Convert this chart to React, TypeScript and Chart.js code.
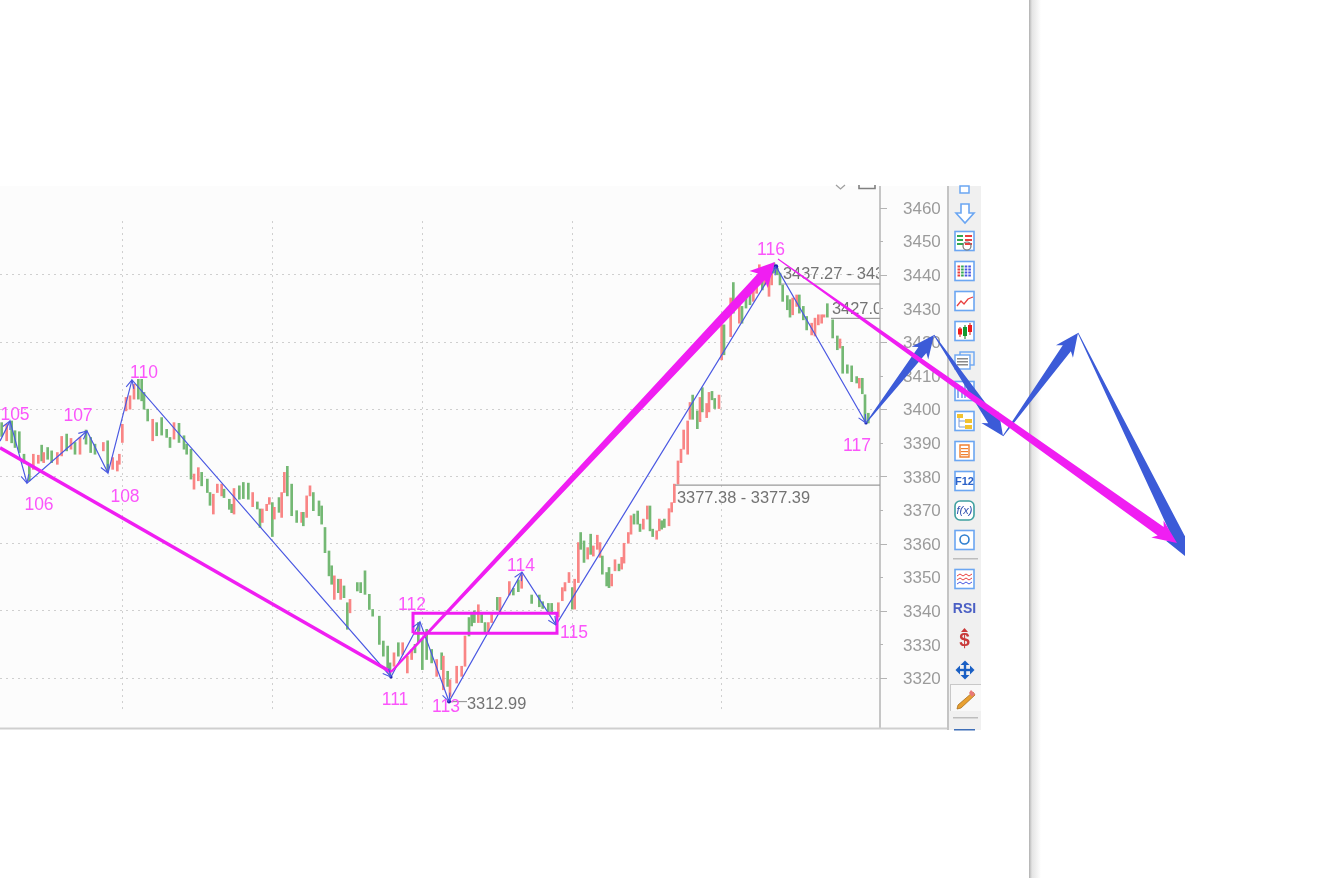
import React, { useEffect, useRef } from "react";
import { Chart, registerables } from "chart.js";

Chart.register(...registerables);

// Time axis position of each bar
const barTime = [
  5,20,35,45,58,72,88,100,115,125,131,143,155,172,185,200,213,225,240,258,
  272,285,310,323,338,352,358,367,378,390,402,415,425,432,443,458,470,485,500,510,
  522,537,552,560,573,582,595,605,622,630,640,652,665,672,688,695,702,718,730,745,
  758,772,780,787,800,808,817,823,837,845,853,862,875,890,905,910,920,930,940,957,
  965,975,987,995,1003,1015,1022,1032,1042,1050,1072,1082,1095,1108,1118,1138,1150,1163,1170,1182,
  1195,1208,1222,1235,1245,1255,1267,1280,1295,1310,1325,1330,1343,1350,1370,1385,1395,1407,1415,1423,
  1435,1445,1455,1465,1475,1492,1500,1528,1540,1555,1565,1595,1618,1628,1645,1655,1675,1687,1695,1707,
  1717,1724,1735,1742,1752,1763,1772,1780,1792,1800,1807,1820,1827,1835,1845,1857,1865,1872,1885,1893,
  1902,1913,1920,1930,1942,1950,1958,1970,1978,1985,1993,2007,2015,2023,2034,2043,2051,2063,2070,2078,
  2092,2100,2107,2120,2127,2136,2144,2157,2165,2172,2192,2200,2218,2226,2238,2250,2260,2270,2278,2287,
  2295,2307,2315,2322,2332,2340,2348,2362,2370,2378,2390,2398,2410,2420,2435,2445,2455,2465,2472,2482,
  2498,2512,2520,2528,2542,2555,2570,2578,2587,2595,2605,
];
const barHigh = [
  3396,3395.5,3396.5,3393.6,3393.3,3386.6,3383.6,3386.6,3386.3,3389.3,3387.1,3388.6,3387.6,3387.1,3391.9,3392.6,3391.3,3390.1,3391.6,3393.8,
  3391.6,3389.6,3390.1,3390.6,3385.6,3384.6,3386.6,3395.5,3403.5,3404,3407.4,3408.9,3408.9,3405,3400,3397,3396,3397.5,3394,3391.6,
  3396,3395.8,3392.1,3389.6,3388.1,3380.7,3382.6,3381.2,3379.2,3375.2,3374.7,3377.7,3377.7,3376.2,3373.2,3371.7,3376.4,3377.2,3378.2,3378,
  3375.2,3372.4,3370.3,3370.3,3371.7,3373.7,3372.2,3370.8,3373.7,3375.2,3381.2,3383,3377.7,3369.8,3369.3,3369.3,3374.2,3377.2,3375.2,3372.7,
  3371.2,3364.8,3357.8,3353.4,3350.4,3349.4,3349.4,3347.4,3342.4,3343.4,3348.4,3348.4,3351.9,3344.9,3340.4,3338.4,3331,3329.5,3324.5,3327.5,
  3330.5,3330.5,3326.5,3328.5,3330,3336.5,3331.5,3334.5,3328.5,3325.5,3327.5,3326.5,3322,3319.5,3323.5,3323.5,3332.5,3338,3339.5,3340,
  3341.8,3339,3336.5,3336.5,3339,3344,3344,3348.7,3346.7,3349.2,3350.7,3344.7,3344.7,3342.7,3342.2,3342.2,3342.4,3346.9,3348.4,3351.4,
  3346.9,3349.4,3360.3,3363.3,3360.8,3358.8,3362.8,3359.3,3362.5,3360.3,3356.3,3351.4,3352.9,3350.9,3355.2,3353.9,3355.9,3360.1,3363.3,3368.3,
  3368.8,3369.7,3365.8,3367.3,3371.2,3371.2,3364.3,3363.8,3367.3,3366.8,3367.3,3370.4,3372.2,3377.7,3384.6,3388.1,3393.8,3396.5,3402,3404.2,
  3399.5,3403.5,3406.4,3401.7,3405,3405.3,3403.2,3404.2,3425.1,3425.1,3433.1,3437.7,3432.1,3430.6,3434,3435,3437,3437.5,3443,3438.5,
  3440.5,3438.5,3442,3443.5,3442,3440.5,3437,3433.8,3432.6,3433.1,3434,3434,3430.6,3427.6,3425.6,3427.1,3428.1,3428.1,3428.1,3431.4,
  3426.6,3421.8,3420.9,3418.7,3413.2,3412.9,3409.7,3409.2,3409.2,3404.3,3398.8,
];
const barLow = [
  3391.9,3390.6,3390,3388.6,3387.1,3383.9,3378.7,3382.1,3383.9,3384.6,3384.1,3385.1,3384.1,3383.6,3386.1,3387.6,3388.1,3386.6,3386.6,3389.6,
  3387.1,3386.6,3387.6,3381.6,3382.1,3381.6,3383.6,3390.1,3399.5,3400,3403,3403,3402.5,3400,3396.5,3390.6,3392.1,3392.3,3391.6,3388.6,
  3391.1,3390.1,3388.1,3386.6,3379.2,3376.2,3378.7,3377.2,3375.2,3371.4,3368.8,3375.2,3374.2,3373.7,3370.2,3369.2,3368.8,3373.2,3373.4,3373.2,
  3371,3370.3,3364.8,3366.3,3369.8,3371.7,3362.1,3367.3,3369.3,3367.8,3375.2,3374.2,3368.3,3366.3,3366.3,3365.3,3367.8,3374.2,3369.8,3368.3,
  3365.8,3357.3,3350.4,3347.9,3343.4,3345.4,3343.4,3343.9,3334.5,3339.4,3345.9,3345.4,3344.9,3340.4,3338.4,3330,3326.5,3323,3320.5,3323.5,
  3326.5,3327,3321.5,3325.5,3327.5,3330.5,3322.5,3325.5,3324.5,3320.5,3322.5,3316.5,3317.5,3314.5,3318.5,3320.5,3323.5,3332.5,3335.5,3336.5,
  3336.5,3336.5,3333.5,3333.5,3336.5,3340.2,3339.7,3344.7,3344.7,3345.7,3346.7,3342.2,3341.2,3340.7,3339.2,3339.2,3338.2,3343,3345.9,3348.4,
  3340.5,3340.5,3348.4,3358.3,3354.4,3355.4,3356.8,3356.3,3358.3,3355.9,3350.9,3347.4,3346.9,3347.4,3351.9,3351.9,3352.4,3354.2,3360.1,3362.8,
  3365.8,3365.8,3363.6,3364.3,3367.3,3363.8,3362.1,3361.3,3363.8,3364.3,3364.8,3365.3,3369.4,3372.2,3377.7,3384.1,3388.1,3386.6,3397,3397,
  3394.2,3396.3,3399.2,3397.5,3399.2,3402.8,3400.2,3400.2,3414.7,3416.2,3421.6,3428.6,3425.6,3425.6,3430.1,3431.1,3432.1,3434.5,3437,3435.5,
  3437,3433.6,3437,3440.5,3440,3437,3432.1,3429.6,3427.4,3428.1,3430.6,3428.6,3426.6,3423.6,3422.1,3421.8,3425.1,3425.6,3427.4,3427.4,
  3421.2,3417.7,3418.2,3410.7,3410.7,3408.2,3407.8,3406.3,3404.6,3396.3,3395.9,
];
// "R" red bar, "G" green bar
const barColorCode = (
  "GRGGGGGRRGRGGRRGRGRG" +
  "GGRGRRRRRRRGGGGRGGGG" +
  "RGGGGRRGGGRRRGGGRGGG" +
  "RGGRRRGRGRRGGGRGRRGG" +
  "GGGGRGRGGRGGGGGGGGGR" +
  "GRRRGGGGGRGRGRRRRGG" + "G" +
  "RGGRRGRRGGRGGGGGRRRR" +
  "GRRGGRGRRRGGGRRGRRRR" +
  "GGGRRGGRRGGRRRRRRRRG" +
  "GRGRRGGRRGRGRGGGRRRG" +
  "RRRGGGGGGRRGGGRRRRRG" +
  "GGRGGGGRGGG"
).split("");

// Blue zigzag, waves 105 to 117
const waveTime = [0, 30, 81, 261, 324, 396, 1173, 1260, 1347, 1566, 1668, 2328, 2598];
const wavePrice = [3390.5, 3396.5, 3378, 3393.5, 3381, 3408.7, 3320.3, 3336.7, 3312.99, 3351.5, 3335.8, 3442.5, 3395.9];
const waveDotRadius = [0, 0, 0, 0, 0, 0, 1.6, 0, 2, 0, 0, 2.2, 1.6];
// Magenta trend line
const trendTime = [0, 1173];
const trendPrice = [3388.5, 3321.8];
// Hand-drawn arrows
const blueArrowTime = [2598, 2802, 3009, 3234, 3570];
const blueArrowPrice = [3395.9, 3422.1, 3392, 3422.7, 3355.1];
const magentaArrowTime = [1173, 2325, 2334, 3531];
const magentaArrowPrice = [3321.8, 3443.8, 3444.7, 3360.2];
// Magenta box
const boxTime = [1239, 1671];
const boxPrice = [3333.3, 3339.3];
// Price levels
const levelStart = [2340, 2493, 2025, 1347];
const levelEnd = [2640, 2640, 2640, 1401];
const levelPrice = [3437.27, 3427.06, 3377.38, 3312.99];

const waveLabels = ["105", "106", "107", "108", "110", "111", "112", "113", "114", "115", "116", "117"];
const waveLabelTime = [45, 117, 234, 375, 432, 1185, 1236, 1338, 1563, 1722, 2313, 2571];
const waveLabelPrice = [3398.1, 3371.3, 3397.8, 3373.7, 3410.6, 3313.3, 3341.8, 3311.2, 3353.4, 3333.2, 3447.2, 3389.1];
const levelLabels = ["3312.99", "3377.38 - 3377.39", "3437.27 - 3437.28", "3427.06 - 3427.07"];
const levelLabelTime = [1401, 2031, 2349, 2496];
const levelLabelPrice = [3312, 3373.3, 3440.2, 3429.8];
const gridTimes = [366, 816, 1266, 1716, 2163];

const RED = "#f98585";
const GREEN = "#74b874";
const BLUE = "#4a58e2";
const ARROW_BLUE = "#3c5bd8";
const MAGENTA = "#f01ef2";
const ICON_BLUE = "#6ba6f2";
const FONT = '"Liberation Sans", Arial, sans-serif';

function taperArrow(ctx: any, x0: number, y0: number, x1: number, y1: number, w0: number, w1: number, hl: number, hw: number, color: string) {
  const len = Math.hypot(x1 - x0, y1 - y0);
  const ux = (x1 - x0) / len, uy = (y1 - y0) / len;
  const nx = -uy, ny = ux;
  const bx = x1 - ux * hl, by = y1 - uy * hl;
  const sx = bx - ux * 4, sy = by - uy * 4;
  ctx.fillStyle = color;
  ctx.beginPath();
  ctx.moveTo(x0 + nx * w0 / 2, y0 + ny * w0 / 2);
  ctx.lineTo(bx + nx * w1 / 2, by + ny * w1 / 2);
  ctx.lineTo(sx + nx * hw / 2, sy + ny * hw / 2);
  ctx.lineTo(x1, y1);
  ctx.lineTo(sx - nx * hw / 2, sy - ny * hw / 2);
  ctx.lineTo(bx - nx * w1 / 2, by - ny * w1 / 2);
  ctx.lineTo(x0 - nx * w0 / 2, y0 - ny * w0 / 2);
  ctx.closePath();
  ctx.fill();
}

function openHead(ctx: any, x0: number, y0: number, x1: number, y1: number) {
  const a = Math.atan2(y1 - y0, x1 - x0);
  ctx.beginPath();
  for (const d of [-0.45, 0.45]) {
    ctx.moveTo(x1, y1);
    ctx.lineTo(x1 - 9 * Math.cos(a + d), y1 - 9 * Math.sin(a + d));
  }
  ctx.stroke();
}

function frame(ctx: any, cy: number, color = ICON_BLUE, fill = "#ffffff") {
  ctx.fillStyle = fill;
  ctx.fillRect(955, cy - 9.5, 19, 19);
  ctx.strokeStyle = color;
  ctx.lineWidth = 1.6;
  ctx.strokeRect(955, cy - 9.5, 19, 19);
}

function rect(ctx: any, x: number, y: number, w: number, h: number, c: string) {
  ctx.fillStyle = c;
  ctx.fillRect(x, y, w, h);
}

function poly(ctx: any, pts: number[][], fill?: string, stroke?: string, lw = 1) {
  ctx.beginPath();
  pts.forEach((p, i) => (i ? ctx.lineTo(p[0], p[1]) : ctx.moveTo(p[0], p[1])));
  if (fill) { ctx.closePath(); ctx.fillStyle = fill; ctx.fill(); }
  if (stroke) { ctx.strokeStyle = stroke; ctx.lineWidth = lw; ctx.stroke(); }
}

function drawToolbar(ctx: any) {
  rect(ctx, 948, 186, 33, 544, "#f0f0f0");
  rect(ctx, 947, 186, 2, 544, "#c4c4c4");
  // clipped button at the top
  poly(ctx, [[960, 186], [960, 193], [969, 193], [969, 186]], "#ffffff", ICON_BLUE, 1.5);
  // down arrow
  poly(ctx, [[961, 204], [969, 204], [969, 213], [974, 213], [965, 223], [956, 213], [961, 213]], "#ffffff", ICON_BLUE, 1.6);
  // list with check
  frame(ctx, 241);
  for (let i = 0; i < 3; i++) {
    rect(ctx, 957, 235 + i * 4, 6, 2, "#32a852");
    rect(ctx, 965, 235 + i * 4, 7, 2, "#e84040");
  }
  ctx.strokeStyle = "#777"; ctx.lineWidth = 1.2;
  ctx.beginPath(); ctx.arc(967, 246, 4, 0, Math.PI * 2); ctx.stroke();
  // colored table
  frame(ctx, 271);
  ["#e84040", "#32a852", "#4a58e2", "#4a58e2"].forEach((c, col) => {
    for (let r = 0; r < 4; r++) rect(ctx, 957.5 + col * 3.6, 265.5 + r * 3, 2.6, 2, c);
  });
  // line icon
  frame(ctx, 301);
  poly(ctx, [[957, 306], [961, 301], [964, 304], [968, 299], [973, 297]], undefined, "#e84040", 1.3);
  // candlesticks
  frame(ctx, 331);
  rect(ctx, 959.5, 327, 1, 10, "#d01818"); rect(ctx, 958, 328.5, 4, 6, "#ee1c1c");
  rect(ctx, 964.5, 325, 1, 14, "#0a7a20"); rect(ctx, 963, 327, 4, 9, "#129a30");
  rect(ctx, 969.5, 323, 1, 12, "#d01818"); rect(ctx, 968, 325, 4, 7, "#ee1c1c");
  // windows
  ctx.strokeStyle = ICON_BLUE; ctx.lineWidth = 1.4;
  ctx.strokeRect(960, 352, 14, 13);
  rect(ctx, 955, 355, 15, 14, "#ffffff");
  ctx.strokeRect(955, 355, 15, 14);
  for (let i = 0; i < 3; i++) rect(ctx, 957, 358 + i * 3, 11, 1.5, "#8a8a8a");
  // bars
  frame(ctx, 391);
  poly(ctx, [[958, 398], [958, 387], [962, 387], [962, 398]], undefined, "#4a7ae0", 1.2);
  poly(ctx, [[965, 398], [965, 384], [970, 384], [970, 398]], undefined, "#4a7ae0", 1.2);
  // tree
  frame(ctx, 421);
  rect(ctx, 957, 414, 6, 4, "#f2c230"); rect(ctx, 965, 419, 7, 4, "#f2c230"); rect(ctx, 965, 425, 7, 4, "#f2c230");
  poly(ctx, [[959, 418], [959, 427], [965, 427]], undefined, "#7a9ad8", 1);
  poly(ctx, [[959, 421], [965, 421]], undefined, "#7a9ad8", 1);
  // orange doc
  frame(ctx, 451);
  poly(ctx, [[960, 445], [969, 445], [969, 457], [960, 457]], "#ffffff", "#f08030", 1.4);
  for (let i = 0; i < 3; i++) rect(ctx, 961, 448 + i * 3, 7, 1.2, "#f08030");
  // text buttons
  frame(ctx, 481);
  ctx.fillStyle = "#2c62c8"; ctx.textAlign = "center"; ctx.textBaseline = "middle";
  ctx.font = `bold 11px ${FONT}`;
  ctx.fillText("F12", 964.5, 481.5);
  ctx.fillStyle = "#ffffff"; ctx.strokeStyle = "#3fa0a0"; ctx.lineWidth = 1.6;
  ctx.beginPath(); ctx.roundRect(955, 501, 19, 19, 5); ctx.fill(); ctx.stroke();
  ctx.fillStyle = "#3050b0"; ctx.font = `italic 11px ${FONT}`;
  ctx.fillText("f(x)", 964.5, 511);
  frame(ctx, 540);
  ctx.strokeStyle = "#2f7fd0"; ctx.lineWidth = 1.6;
  ctx.beginPath(); ctx.arc(964.5, 539.5, 4.5, 0, Math.PI * 2); ctx.stroke();
  rect(ctx, 953, 558, 25, 1.5, "#bdbdbd");
  // wave icon
  frame(ctx, 579);
  for (const [yy, c] of [[575, "#e84040"], [579, "#e84040"], [583, "#4a58e2"]] as [number, string][]) {
    poly(ctx, [[957, yy + 1], [960, yy - 1], [963, yy + 1], [966, yy - 1], [969, yy + 1], [972, yy - 1]], undefined, c, 1);
  }
  ctx.fillStyle = "#4a5fc4"; ctx.font = `bold 14px ${FONT}`;
  ctx.fillText("RSI", 964.5, 609.5);
  ctx.fillStyle = "#c93a3a"; ctx.font = `bold 19px ${FONT}`;
  ctx.fillText("$", 964.5, 641);
  poly(ctx, [[961, 632], [964.5, 628], [968, 632]], "#c93a3a");
  // move cross
  const cx = 965, cy = 670;
  poly(ctx, [[cx - 9.5, cy], [cx - 5, cy - 4.5], [cx - 5, cy + 4.5]], "#1a5fc4");
  poly(ctx, [[cx + 9.5, cy], [cx + 5, cy - 4.5], [cx + 5, cy + 4.5]], "#1a5fc4");
  poly(ctx, [[cx, cy - 9.5], [cx - 4.5, cy - 5], [cx + 4.5, cy - 5]], "#1a5fc4");
  poly(ctx, [[cx, cy + 9.5], [cx - 4.5, cy + 5], [cx + 4.5, cy + 5]], "#1a5fc4");
  rect(ctx, cx - 6, cy - 1.2, 12, 2.4, "#1a5fc4");
  rect(ctx, cx - 1.2, cy - 6, 2.4, 12, "#1a5fc4");
  // pencil in a pressed button
  rect(ctx, 950, 684, 31, 27, "#f8f8f8");
  rect(ctx, 950, 684, 31, 1, "#c8c8c8");
  rect(ctx, 950, 684, 1, 27, "#c8c8c8");
  poly(ctx, [[973, 692], [975, 695], [961, 708], [957, 709], [958, 705]], "#e8a030", "#a87020", 0.8);
  poly(ctx, [[971, 690], [975, 694], [972, 697], [969, 693]], "#e87878");
  rect(ctx, 953, 717, 25, 1.5, "#bdbdbd");
  rect(ctx, 954, 729, 21, 1.5, "#3f6fb8");
}

const panelPlugin = {
  id: "panel",
  beforeDraw(chart: any) {
    const { ctx, chartArea } = chart;
    const yScale = chart.scales.y;
    ctx.save();
    rect(ctx, 0, 0, 1333, 878, "#ffffff");
    rect(ctx, 0, chartArea.top, yScale.right, chartArea.bottom - chartArea.top, "#fcfcfc");
    // window shadow
    const g = ctx.createLinearGradient(1029, 0, 1041, 0);
    g.addColorStop(0, "#b0b0b0");
    g.addColorStop(0.25, "#e4e4e4");
    g.addColorStop(1, "#ffffff");
    ctx.fillStyle = g;
    ctx.fillRect(1029, 0, 12, 878);
    // top corner glyphs
    poly(ctx, [[836, 185], [840.5, 189], [845, 185]], undefined, "#a0a0a0", 1.3);
    poly(ctx, [[859, 185], [859, 188.5], [875, 188.5], [875, 185]], undefined, "#808080", 1.6);
    ctx.restore();
  },
  beforeDatasetsDraw(chart: any) {
    const { ctx, chartArea } = chart;
    const x = chart.scales.x, y = chart.scales.y;
    ctx.save();
    ctx.strokeStyle = "#cfcfcf";
    ctx.lineWidth = 1;
    ctx.setLineDash([2, 4]);
    for (const t of gridTimes) {
      const px = Math.round(x.getPixelForValue(t)) + 0.5;
      ctx.beginPath();
      ctx.moveTo(px, y.getPixelForValue(3456));
      ctx.lineTo(px, y.getPixelForValue(3310));
      ctx.stroke();
    }
    ctx.setLineDash([]);
    // axis line and tick marks
    rect(ctx, chartArea.right - 1, chartArea.top, 2, chartArea.bottom - chartArea.top, "#c6c6c6");
    rect(ctx, 0, chartArea.bottom - 0.5, y.right, 2, "#cfcfcf");
    ctx.strokeStyle = "#b4b4b4";
    y.ticks.forEach((tick: any, i: number) => {
      if (tick.value < 3320) return;
      const py = Math.round(y.getPixelForTick(i)) + 0.5;
      ctx.beginPath();
      ctx.moveTo(chartArea.right, py);
      ctx.lineTo(chartArea.right + (tick.value % 20 === 0 ? 7 : 3), py);
      ctx.stroke();
    });
    drawToolbar(ctx);
    ctx.restore();
  },
  afterDatasetsDraw(chart: any) {
    const { ctx, chartArea } = chart;
    const x = chart.scales.x, y = chart.scales.y;
    const X = (v: number) => x.getPixelForValue(v);
    const Y = (v: number) => y.getPixelForValue(v);
    ctx.save();
    // heads on the wave line
    ctx.strokeStyle = BLUE;
    ctx.lineWidth = 1.1;
    for (let i = 1; i < waveTime.length; i++) {
      openHead(ctx, X(waveTime[i - 1]), Y(wavePrice[i - 1]), X(waveTime[i]), Y(wavePrice[i]));
    }
    // labels
    ctx.textBaseline = "middle";
    ctx.textAlign = "center";
    ctx.font = `17.5px ${FONT}`;
    ctx.fillStyle = "#fb55fb";
    waveLabels.forEach((t, i) => ctx.fillText(t, X(waveLabelTime[i]), Y(waveLabelPrice[i])));
    ctx.save();
    ctx.beginPath();
    ctx.rect(0, chartArea.top, chartArea.right - 1, chartArea.bottom - chartArea.top);
    ctx.clip();
    ctx.textAlign = "left";
    ctx.font = `16.4px ${FONT}`;
    ctx.fillStyle = "#737373";
    levelLabels.forEach((t, i) => ctx.fillText(t, X(levelLabelTime[i]), Y(levelLabelPrice[i])));
    ctx.restore();
    // blue arrows, cut where the pasted image ends
    ctx.save();
    ctx.beginPath();
    ctx.rect(0, 0, 1185, 878);
    ctx.clip();
    for (let i = 1; i < blueArrowTime.length; i++) {
      const last = i === blueArrowTime.length - 1;
      taperArrow(ctx, X(blueArrowTime[i - 1]), Y(blueArrowPrice[i - 1]), X(blueArrowTime[i]), Y(blueArrowPrice[i]),
        0.8, last ? 12 : 10, last ? 24 : 19, last ? 26 : 21, ARROW_BLUE);
    }
    ctx.restore();
    // magenta arrows
    taperArrow(ctx, X(magentaArrowTime[0]), Y(magentaArrowPrice[0]), X(magentaArrowTime[1]), Y(magentaArrowPrice[1]), 2, 9.5, 20, 25, MAGENTA);
    taperArrow(ctx, X(magentaArrowTime[2]), Y(magentaArrowPrice[2]), X(magentaArrowTime[3]), Y(magentaArrowPrice[3]), 1, 10.5, 20, 21, MAGENTA);
    ctx.restore();
  },
};

export default function App() {
  const ref = useRef<HTMLCanvasElement>(null);
  useEffect(() => {
    if (!ref.current) return;
    const line = (xs: number[], ys: number[], color: string, width: number) => ({
      type: "line" as const,
      data: xs.map((t, i) => ({ x: t, y: ys[i] })),
      borderColor: color,
      borderWidth: width,
      pointRadius: 0,
      tension: 0,
      fill: false,
      order: 1,
    });
    const levels = levelPrice.map((p, i) => line([levelStart[i], levelEnd[i]], [p, p], "#9a9a9a", 1.2));
    const chart = new Chart(ref.current, {
      type: "bar",
      data: {
        datasets: [
          line(trendTime, trendPrice, MAGENTA, 3.4),
          line(
            [boxTime[0], boxTime[1], boxTime[1], boxTime[0], boxTime[0]],
            [boxPrice[0], boxPrice[0], boxPrice[1], boxPrice[1], boxPrice[0]],
            MAGENTA,
            3
          ),
          {
            ...line(waveTime, wavePrice, BLUE, 1.2),
            pointRadius: waveDotRadius,
            pointBackgroundColor: "#1a22b0",
            pointBorderWidth: 0,
          },
          ...levels,
          {
            type: "bar" as const,
            data: barTime.map((t, i) => ({ x: t, y: [barLow[i], barHigh[i]] })),
            backgroundColor: barColorCode.map((c) => (c === "R" ? RED : GREEN)),
            barThickness: 2,
            order: 5,
          },
        ],
      } as any,
      options: {
        responsive: false,
        animation: false,
        layout: { autoPadding: false, padding: { left: 0, top: 186, right: 385, bottom: 150 } },
        plugins: { legend: { display: false }, title: { display: false }, tooltip: { enabled: false } },
        scales: {
          x: { type: "linear", display: false, offset: false, min: 0, max: 2640, grid: { display: false, offset: false } },
          y: {
            type: "linear",
            position: "right",
            min: 3305.12,
            max: 3466.43,
            afterFit: (s: any) => { s.width = 68; },
            border: { display: false, dash: [2, 4] },
            grid: {
              drawTicks: false,
              tickLength: 0,
              lineWidth: 1,
              color: (c: any) => (c.tick && c.tick.value % 20 === 0 && c.tick.value <= 3440 ? "#cfcfcf" : "rgba(0,0,0,0)"),
            },
            ticks: {
              stepSize: 10,
              includeBounds: false,
              autoSkip: false,
              padding: 23,
              labelOffset: 1.5,
              color: "#9b9b9b",
              font: { family: "Liberation Sans", size: 17 },
              callback: (v: any) => (Number(v) >= 3320 ? String(v) : ""),
            },
          },
        },
      } as any,
      plugins: [panelPlugin],
    });
    return () => chart.destroy();
  }, []);
  return (
    <canvas
      ref={ref}
      width={1333}
      height={878}
      style={{ position: "fixed", left: 0, top: 0, width: 1333, height: 878, display: "block" }}
    />
  );
}
